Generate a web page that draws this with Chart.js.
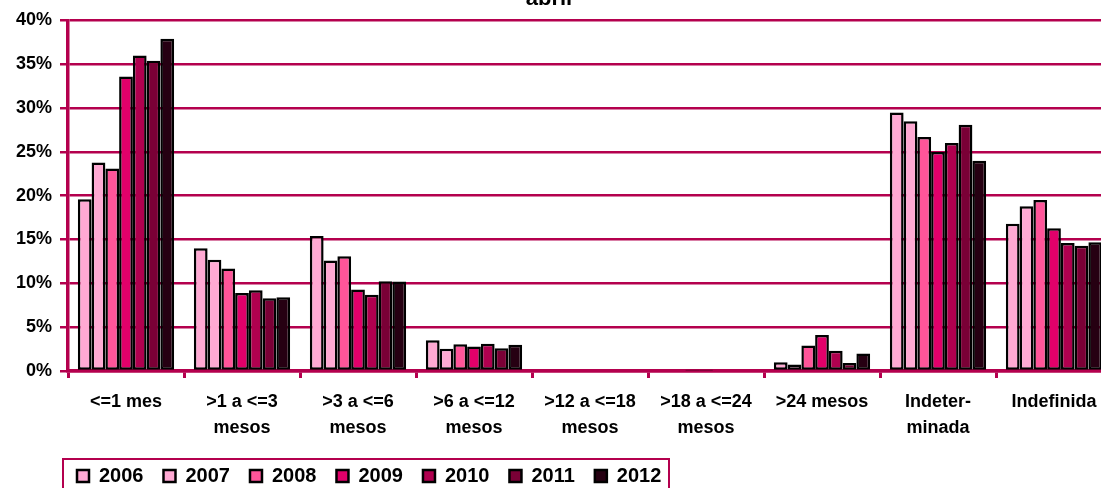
<!DOCTYPE html>
<html>
<head>
<meta charset="utf-8">
<script src="https://cdn.jsdelivr.net/npm/chart.js@4/dist/chart.umd.min.js"></script>
<style>
  html, body { margin: 0; padding: 0; background: #fff; overflow: hidden; width: 1101px; height: 488px; }
  #wrap { position: absolute; left: 0; top: -20px; width: 1125px; height: 516px; }
</style>
</head>
<body>
<div id="wrap"><canvas id="myChart" width="1125" height="516"></canvas></div>
<script>
const categories = [
  "<=1 mes",
  [">1 a <=3", "mesos"],
  [">3 a <=6", "mesos"],
  [">6 a <=12", "mesos"],
  [">12 a <=18", "mesos"],
  [">18 a <=24", "mesos"],
  ">24 mesos",
  ["Indeter-", "minada"],
  "Indefinida"
];
const years = ["2006", "2007", "2008", "2009", "2010", "2011", "2012"];
const colors = ["#FFA9D3", "#FFA9D3", "#FF5599", "#E2006A", "#B0004F", "#7A0036", "#260012"];

const v2006 = [19.6, 14.0, 15.4, 3.5, 0, 0, 1.0, 29.5, 16.8];
const v2007 = [23.8, 12.7, 12.6, 2.55, 0, 0, 0.75, 28.5, 18.8];
const v2008 = [23.1, 11.7, 13.1, 3.05, 0, 0.05, 2.9, 26.7, 19.5];
const v2009 = [33.6, 8.9, 9.3, 2.8, 0, 0.05, 4.1, 25.0, 16.3];
const v2010 = [36.0, 9.2, 8.7, 3.1, 0, 0, 2.3, 26.0, 14.6];
const v2011 = [35.4, 8.3, 10.25, 2.6, 0, 0, 0.9, 28.1, 14.3];
const v2012 = [37.9, 8.4, 10.2, 3.0, 0, 0, 2.0, 24.0, 14.7];
const series = [v2006, v2007, v2008, v2009, v2010, v2011, v2012];

const yTicks = [0, 5, 10, 15, 20, 25, 30, 35, 40];

const crimson = "#B4004E";
const fontFamily = "'Liberation Sans', Arial, sans-serif";

// moves title + legend a bit and draws the frame round the legend
const tweaks = {
  id: "tweaks",
  afterLayout(chart) {
    chart.titleBlock.left -= 14;
    chart.legend.left += 57;
    chart.legend.right += 57;
  },
  afterDraw(chart) {
    const lg = chart.legend;
    const ctx = chart.ctx;
    const left = lg.left + 6;
    const textMid = lg.top + 20 + 12;
    ctx.save();
    ctx.strokeStyle = crimson;
    ctx.lineWidth = 2;
    ctx.strokeRect(left, textMid - 19, 606, 60);
    ctx.restore();
  }
};

const chart = new Chart(document.getElementById("myChart"), {
  type: "bar",
  data: {
    labels: categories,
    datasets: years.map((y, i) => ({
      label: y,
      data: series[i],
      backgroundColor: colors[i],
      borderColor: "#000",
      borderWidth: 2.5,
      borderSkipped: false,
      categoryPercentage: 0.83,
      barPercentage: 1
    }))
  },
  options: {
    responsive: false,
    animation: false,
    layout: { padding: { left: 0, right: 13, top: 0, bottom: 0 } },
    plugins: {
      title: {
        display: true,
        text: "abril",
        color: "#000",
        font: { family: fontFamily, size: 22, weight: "bold" },
        padding: { top: 6, bottom: 8 }
      },
      legend: {
        position: "bottom",
        align: "start",
        labels: {
          color: "#000",
          font: { family: fontFamily, size: 20, weight: "bold" },
          boxWidth: 12,
          boxHeight: 12,
          padding: 20
        }
      },
      tooltip: { enabled: false }
    },
    scales: {
      x: {
        afterFit: (s) => { s.height = 75; },
        grid: { offset: true, drawOnChartArea: false, tickLength: 7, color: crimson, lineWidth: 3 },
        border: { color: crimson, width: 3.5 },
        ticks: {
          color: "#000",
          maxRotation: 0,
          autoSkip: false,
          padding: 11,
          font: { family: fontFamily, size: 18, weight: "bold", lineHeight: "26px" }
        }
      },
      y: {
        min: 0,
        max: 40,
        afterFit: (s) => { s.width = 68; },
        afterBuildTicks: (s) => { s.ticks = yTicks.map(v => ({ value: v })); },
        grid: { color: crimson, lineWidth: 2.5, tickLength: 8 },
        border: { color: crimson, width: 3.5 },
        ticks: {
          color: "#000",
          padding: 8,
          font: { family: fontFamily, size: 18, weight: "bold" },
          callback: (v) => v + "%"
        }
      }
    }
  },
  plugins: [tweaks]
});
</script>
</body>
</html>
